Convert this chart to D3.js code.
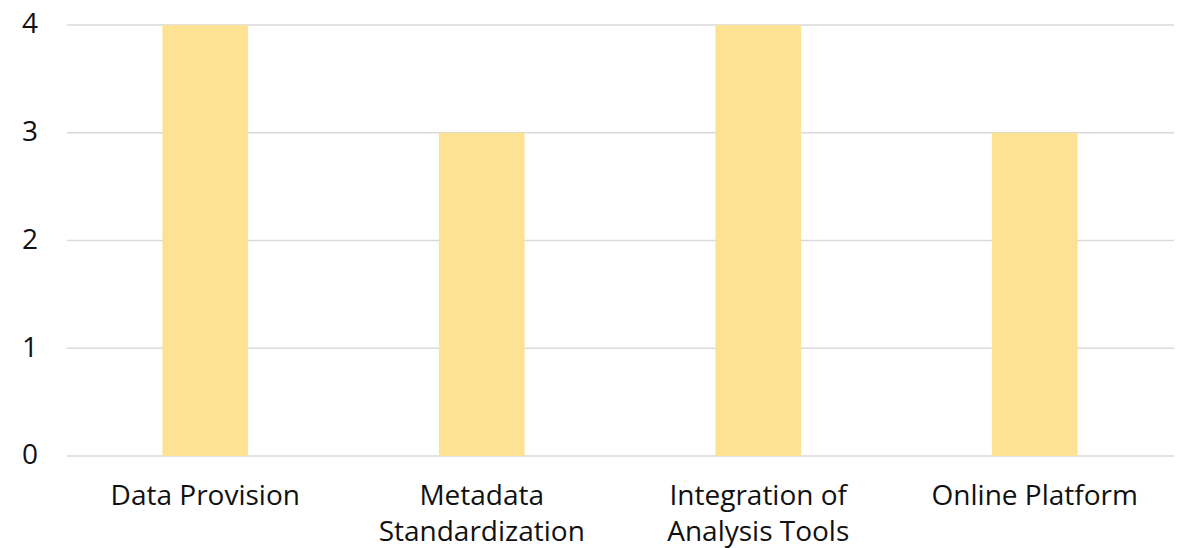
<!DOCTYPE html>
<html><head><meta charset="utf-8">
<script src="https://cdn.jsdelivr.net/npm/d3@7"></script>
<style>body{margin:0;background:#fff;} svg{display:block;font-family:"Open Sans",sans-serif;}</style>
</head><body>
<svg id="c" width="1179" height="548"></svg>
<script>
const categories = [["Data Provision"], ["Metadata","Standardization"], ["Integration of","Analysis Tools"], ["Online Platform"]];
const values = [4, 3, 4, 3];
const yTicks = [0, 1, 2, 3, 4];

const svg = d3.select("#c");
const m = {l: 67, r: 1173, t: 25, b: 456};
const keys = categories.map(c => c.join(" "));
const x = d3.scaleBand().domain(keys).range([m.l, m.r]).paddingInner(0.69).paddingOuter(0.345);
const y = d3.scaleLinear().domain([0, 4]).range([m.b, m.t]);

svg.append("g").selectAll("line").data(yTicks).join("line")
  .attr("x1", m.l).attr("x2", m.r + 1)
  .attr("y1", d => y(d)).attr("y2", d => y(d))
  .attr("stroke", "#d9d9d9").attr("stroke-width", 1.5);

svg.append("g").selectAll("text").data(yTicks).join("text")
  .attr("x", 38).attr("y", d => y(d)).attr("dy", "0.3em")
  .attr("text-anchor", "end").attr("font-size", 28).attr("fill", "#111")
  .text(d => d);

svg.append("g").selectAll("rect").data(values).join("rect")
  .attr("x", (d, i) => x(keys[i])).attr("width", x.bandwidth())
  .attr("y", d => y(d)).attr("height", d => y(0) - y(d))
  .attr("fill", "#fde293");

const lab = svg.append("g").selectAll("text").data(categories).join("text")
  .attr("text-anchor", "middle").attr("font-size", 28).attr("fill", "#111")
  .attr("x", (d, i) => x(keys[i]) + x.bandwidth() / 2).attr("y", 505);
lab.selectAll("tspan").data(d => d).join("tspan")
  .attr("x", function() { return d3.select(this.parentNode).attr("x"); })
  .attr("dy", (d, i) => i === 0 ? 0 : 36)
  .text(d => d);
</script>
</body></html>
